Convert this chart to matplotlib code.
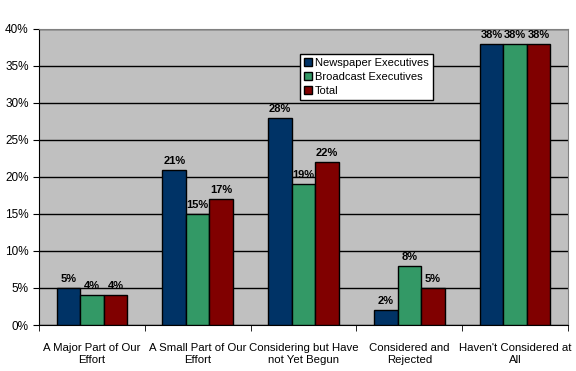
import matplotlib
matplotlib.use("Agg")
import matplotlib.pyplot as plt
import numpy as np

plt.rcParams['font.family'] = ['Liberation Sans', 'DejaVu Sans']

categories = ["A Major Part of Our\nEffort", "A Small Part of Our\nEffort",
              "Considering but Have\nnot Yet Begun", "Considered and\nRejected",
              "Haven't Considered at\nAll"]
series_names = ["Newspaper Executives", "Broadcast Executives", "Total"]
newspaper = [5, 21, 28, 2, 38]
broadcast = [4, 15, 19, 8, 38]
total = [4, 17, 22, 5, 38]
yticks = [0, 5, 10, 15, 20, 25, 30, 35, 40]
colors = ["#003366", "#339966", "#800000"]

fig = plt.figure(figsize=(5.76, 3.71), dpi=100)
ax = fig.add_axes([39/576, 46/371, (568-39)/576, (325-29)/371])
ax.set_facecolor("#C0C0C0")

x = np.arange(len(categories))
w = 0.222
for i, (vals, name, c) in enumerate(zip([newspaper, broadcast, total], series_names, colors)):
    pos = x + (i - 1) * w
    ax.bar(pos, vals, w, color=c, edgecolor="black", linewidth=1, label=name, zorder=3)
    for p, v in zip(pos, vals):
        ax.text(p, v + 0.55, f"{v}%", ha="center", va="bottom", fontsize=8, fontweight="bold", zorder=4)

ax.set_xlim(-0.5, len(categories) - 0.5)
ax.set_ylim(0, 40)
ax.set_yticks(yticks)
ax.set_yticklabels([f"{t}%" for t in yticks], fontsize=8.5)
ax.yaxis.grid(True, color="black", linewidth=1, zorder=0)
ax.set_axisbelow(True)

ax.set_xticks(x)
ax.set_xticklabels(categories, fontsize=8.2, linespacing=1.2)
ax.tick_params(axis="x", length=0, pad=13)
ax.set_xticks(np.arange(len(categories) + 1) - 0.5, minor=True)
ax.tick_params(axis="x", which="minor", length=4, direction="out", color="black")
ax.tick_params(axis="y", length=4, direction="out", color="black")

for s in ["top", "right"]:
    ax.spines[s].set_color("#808080")
for s in ["left", "bottom"]:
    ax.spines[s].set_color("black")

leg = ax.legend(loc="upper left", bbox_to_anchor=((300-39)/529, (325-54)/296),
                fontsize=8, frameon=True, fancybox=False, edgecolor="black",
                framealpha=1,
                handlelength=0.7, handleheight=0.7, handletextpad=0.3,
                borderpad=0.35, labelspacing=0.35, borderaxespad=0)
leg.get_frame().set_linewidth(1)
leg.get_frame().set_facecolor("white")

fig.savefig("out.png", dpi=100, facecolor="white")
